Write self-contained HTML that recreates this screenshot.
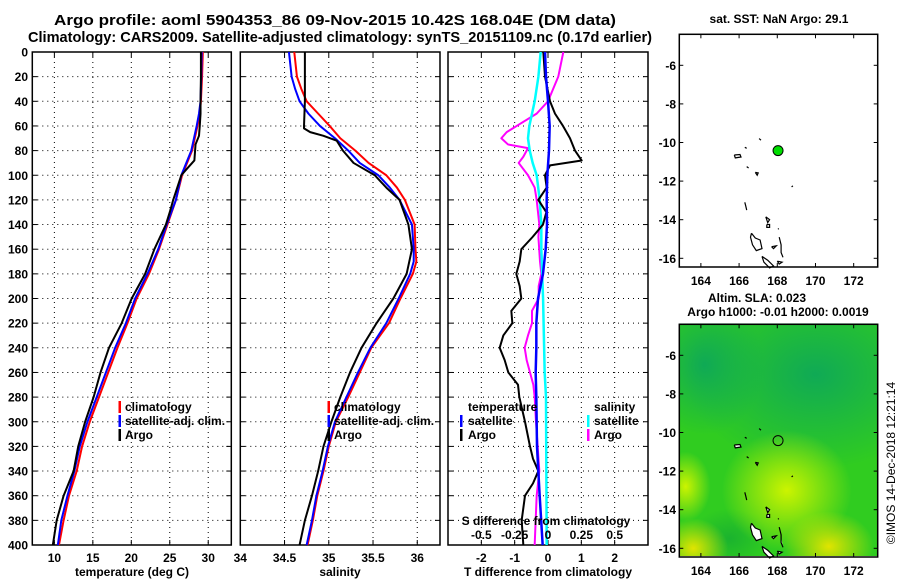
<!DOCTYPE html>
<html><head><meta charset="utf-8"><style>
html,body{margin:0;padding:0;background:#fff;}
svg{display:block;font-family:"Liberation Sans",Arial,sans-serif;font-weight:bold;}
</style></head><body>
<svg id="chart" width="900" height="580" viewBox="0 0 900 580" xmlns="http://www.w3.org/2000/svg">
<defs>
<radialGradient id="gTeal"><stop offset="0" stop-color="#0ea858" stop-opacity="0.95"/><stop offset="1" stop-color="#0ea858" stop-opacity="0"/></radialGradient>
<radialGradient id="gYel"><stop offset="0" stop-color="#ccf400" stop-opacity="1"/><stop offset="1" stop-color="#ccf400" stop-opacity="0"/></radialGradient>
<radialGradient id="gYel2"><stop offset="0" stop-color="#e0e400" stop-opacity="1"/><stop offset="1" stop-color="#e0e400" stop-opacity="0"/></radialGradient>
<radialGradient id="gDark"><stop offset="0" stop-color="#18b030" stop-opacity="0.9"/><stop offset="1" stop-color="#18b030" stop-opacity="0"/></radialGradient>
<clipPath id="clipMap2"><rect x="679.3" y="323.3" width="198.4" height="232.7"/></clipPath>
</defs>
<text x="335" y="25" text-anchor="middle" font-size="15" textLength="562" lengthAdjust="spacingAndGlyphs">Argo profile: aoml 5904353_86 09-Nov-2015 10.42S 168.04E (DM data)</text>
<text x="340" y="42" text-anchor="middle" font-size="15" textLength="624" lengthAdjust="spacingAndGlyphs">Climatology: CARS2009. Satellite-adjusted climatology: synTS_20151109.nc (0.17d earlier)</text>
<g id="plots"></g>
</svg>
<script>
// ---------- data ----------
const depthTicks = [0,20,40,60,80,100,120,140,160,180,200,220,240,260,280,300,320,340,360,380,400];
const tempTicks = [10,15,20,25,30];
const salTicks = [34,34.5,35,35.5,36];
const salTickLabels = ["34","34.5","35","35.5","36"];
const tdiffTicks = [-2,-1,0,1,2];
const sdiffTicks = [-0.5,-0.25,0,0.25,0.5];
const sdiffTickLabels = ["-0.5","-0.25","0","0.25","0.5"];

const argoTDepth = [0,20,40,50,60,68,75,88,95,100,120,130,140,160,180,200,220,240,260,280,300,320,340,360,380,400];
const argoT = [29.05,29.05,29.0,29.0,28.9,28.8,28.35,28.2,27.2,26.5,25.45,25.0,24.5,23.0,21.8,20.05,18.75,17.1,16.0,15.1,14.0,13.1,12.5,11.2,10.3,9.8];
const climTDepth = [0,20,40,50,60,80,100,120,140,160,180,200,220,240,260,280,300,320,340,360,380,400];
const climT = [29.3,29.2,29.05,28.9,28.6,27.9,26.6,25.8,24.7,23.6,22.3,20.7,19.5,18.2,17.0,15.8,14.6,13.6,12.9,11.9,11.2,10.6];
const satT = [29.15,29.1,29.0,28.8,28.5,27.8,26.5,25.8,24.6,23.5,22.1,20.5,19.3,17.9,16.7,15.5,14.3,13.3,12.6,11.7,10.9,10.45];

const argoSDepth = [0,20,40,60,62,65,68,72,80,90,100,110,120,140,160,180,200,220,240,260,280,300,320,340,360,380,400];
const argoS = [34.73,34.73,34.73,34.72,34.72,34.79,34.94,35.09,35.16,35.28,35.52,35.65,35.80,35.90,35.94,35.88,35.73,35.54,35.37,35.24,35.13,35.03,34.94,34.88,34.81,34.73,34.67];
const climSDepth = [0,20,30,40,50,60,70,80,90,100,110,120,140,160,170,180,200,220,240,260,280,300,320,340,360,380,400];
const climS = [34.61,34.64,34.69,34.75,34.88,35.01,35.13,35.30,35.45,35.65,35.77,35.86,35.97,35.98,35.99,35.95,35.81,35.68,35.48,35.35,35.22,35.08,35.0,34.94,34.87,34.82,34.76];
const satS = [34.55,34.58,34.62,34.67,34.77,34.90,35.07,35.22,35.35,35.56,35.69,35.80,35.94,35.96,35.96,35.92,35.79,35.65,35.47,35.33,35.20,35.07,34.99,34.93,34.86,34.81,34.75];

const argoDTDepth = [0,20,40,50,60,70,80,88,92,100,110,120,130,140,150,160,170,180,190,200,210,220,230,240,250,260,270,280,300,320,330,340,350,360,380,400];
const argoDT = [-0.14,-0.09,0.06,0.21,0.45,0.66,0.81,1.01,0.06,-0.09,-0.04,-0.29,-0.05,-0.15,-0.46,-0.8,-0.85,-0.95,-0.85,-0.8,-1.1,-1.07,-1.34,-1.45,-1.3,-1.19,-0.9,-0.86,-0.69,-0.54,-0.45,-0.29,-0.45,-0.69,-0.79,-0.74];
const satDTDepth = [0,20,40,60,80,100,120,140,160,180,200,220,240,260,280,320,360,400];
const satDT = [-0.09,-0.06,0,0.05,0.03,-0.02,-0.04,-0.03,-0.07,-0.15,-0.3,-0.35,-0.35,-0.37,-0.35,-0.33,-0.25,-0.16];
const satDSDepth = [0,20,40,50,60,70,80,90,100,120,140,160,200,260,280,400];
const satDS = [-0.055,-0.072,-0.1,-0.12,-0.14,-0.15,-0.137,-0.115,-0.085,-0.062,-0.05,-0.05,-0.037,-0.025,-0.015,-0.01];
const argoDSDepth = [0,20,40,50,60,65,70,75,78,85,90,100,110,120,140,150,170,180,190,200,210,220,230,240,250,260,270,280,300,340,360,400];
const argoDS = [0.115,0.077,0,-0.085,-0.235,-0.31,-0.35,-0.3,-0.15,-0.185,-0.22,-0.15,-0.1,-0.085,-0.065,-0.072,-0.06,-0.05,-0.07,-0.07,-0.12,-0.12,-0.15,-0.175,-0.16,-0.135,-0.11,-0.1,-0.09,-0.065,-0.085,-0.1];

const lonTicks = [164,166,168,170,172];
const latTicks = [-6,-8,-10,-12,-14,-16];
const argoLon = [168.04];
const argoLat = [-10.42];

// ---------- helpers ----------
const NS = "http://www.w3.org/2000/svg";
const root = document.getElementById('plots');
function mk(tag, attrs, parent) {
  const e = document.createElementNS(NS, tag);
  for (const k in attrs) e.setAttribute(k, attrs[k]);
  (parent || root).appendChild(e);
  return e;
}
const Y0 = 52, Y1 = 545;
const yD = d => Y0 + (d / 400) * (Y1 - Y0);

function makeX(x0, x1, v0, v1) { return v => x0 + (v - v0) / (v1 - v0) * (x1 - x0); }
const xT = makeX(32.3, 231.3, 7.13, 33.0);
const xS = makeX(240.3, 440, 34.0, 36.257);
const xDT = makeX(448, 648, -3.0, 3.0);
const xDS = makeX(448, 648, -0.75, 0.75);

function panel(name, x0, x1, xticks, xfn, labels) {
  const g = mk('g', {});
  
  
  depthTicks.forEach(d => {
    if (d === 0 || d === 400) return;
    const l = mk('line', {x1: x0, x2: x1, y1: yD(d), y2: yD(d), stroke: '#000', 'stroke-width': 1, 'stroke-dasharray': '1,4'}, g);
    
    
    mk('line', {x1: x0, x2: x0 + 5, y1: yD(d), y2: yD(d), stroke: '#000'}, g);
    mk('line', {x1: x1 - 5, x2: x1, y1: yD(d), y2: yD(d), stroke: '#000'}, g);
  });
  xticks.forEach(v => {
    const x = xfn(v);
    if (x <= x0 + 1 || x >= x1 - 1) return;
    const l = mk('line', {x1: x, x2: x, y1: Y0, y2: Y1, stroke: '#000', 'stroke-width': 1, 'stroke-dasharray': '1,4'}, g);
    
    
    mk('line', {x1: x, x2: x, y1: Y0, y2: Y0 + 5, stroke: '#000'}, g);
    mk('line', {x1: x, x2: x, y1: Y1 - 5, y2: Y1, stroke: '#000'}, g);
  });
  xticks.forEach((v, i) => {
    const t = mk('text', {x: xfn(v), y: 562, 'text-anchor': 'middle', 'font-size': 12}, g);
    t.textContent = labels ? labels[i] : String(v);
    
    
  });
  const fr = mk('rect', {x: x0, y: Y0, width: x1 - x0, height: Y1 - Y0, fill: 'none', stroke: '#000', 'stroke-width': 1.5}, g);
  
  
  return g;
}
function series(g, name, vals, depths, xfn, color, w) {
  const pts = vals.map((v, i) => xfn(v).toFixed(2) + ',' + yD(depths[i]).toFixed(2)).join(' ');
  const p = mk('polyline', {points: pts, fill: 'none', stroke: color, 'stroke-width': w, 'stroke-linejoin': 'round'}, g);
  
  
}
function txt(g, name, x, y, s, size, anchor, extra) {
  const t = mk('text', Object.assign({x: x, y: y, 'font-size': size, 'text-anchor': anchor || 'start'}, extra || {}), g);
  t.textContent = s;
  
  
  return t;
}
function legBar(g, name, x, y, color) {
  const r = mk('rect', {x: x, y: y - 10, width: 2.5, height: 12, fill: color}, g);
  
  
}

const yax = mk('g', {});


depthTicks.forEach(d => txt(yax, 'y-tick-label', 28, yD(d) + 4.5, String(d), 12, 'end'));

// Panel 1 temperature
const p1 = panel('temperature-panel', 32.3, 231.3, tempTicks, xT);
series(p1, 'climatology-temperature-line', climT, climTDepth, xT, '#ff0000', 2);
series(p1, 'satellite-temperature-line', satT, climTDepth, xT, '#0000ff', 2);
series(p1, 'argo-temperature-line', argoT, argoTDepth, xT, '#000000', 2);
txt(p1, 'x-axis-title-temperature', 132, 576, 'temperature (deg C)', 12, 'middle');
legBar(p1, 'legend-swatch-climatology', 118.5, 411, '#ff0000');
txt(p1, 'legend-label-climatology', 125, 411, 'climatology', 12);
legBar(p1, 'legend-swatch-satellite', 118.5, 425, '#0000ff');
txt(p1, 'legend-label-satellite', 125, 425, 'satellite-adj. clim.', 12);
legBar(p1, 'legend-swatch-argo', 118.5, 439, '#000000');
txt(p1, 'legend-label-argo', 125, 439, 'Argo', 12);

// Panel 2 salinity
const p2 = panel('salinity-panel', 240.3, 440, salTicks, xS, salTickLabels);
series(p2, 'climatology-salinity-line', climS, climSDepth, xS, '#ff0000', 2);
series(p2, 'satellite-salinity-line', satS, climSDepth, xS, '#0000ff', 2);
series(p2, 'argo-salinity-line', argoS, argoSDepth, xS, '#000000', 2);
txt(p2, 'x-axis-title-salinity', 340, 576, 'salinity', 12, 'middle');
legBar(p2, 'legend-swatch-climatology', 327.5, 411, '#ff0000');
txt(p2, 'legend-label-climatology', 334, 411, 'climatology', 12);
legBar(p2, 'legend-swatch-satellite', 327.5, 425, '#0000ff');
txt(p2, 'legend-label-satellite', 334, 425, 'satellite-adj. clim.', 12);
legBar(p2, 'legend-swatch-argo', 327.5, 439, '#000000');
txt(p2, 'legend-label-argo', 334, 439, 'Argo', 12);

// Panel 3 differences
const p3 = panel('difference-panel', 448, 648, tdiffTicks, xDT);
series(p3, 'argo-salinity-difference-line', argoDS, argoDSDepth, xDS, '#ff00ff', 2);
series(p3, 'satellite-salinity-difference-line', satDS, satDSDepth, xDS, '#00ffff', 2.5);
series(p3, 'argo-temperature-difference-line', argoDT, argoDTDepth, xDT, '#000000', 2);
series(p3, 'satellite-temperature-difference-line', satDT, satDTDepth, xDT, '#0000ff', 2.5);
txt(p3, 'x-axis-title-tdiff', 548, 576, 'T difference from climatology', 12, 'middle');
txt(p3, 's-axis-title', 546, 525, 'S difference from climatology', 12, 'middle');
sdiffTicks.forEach((v, i) => txt(p3, 's-tick-label', xDS(v), 539, sdiffTickLabels[i], 12, 'middle'));
txt(p3, 'legend-title-temperature', 468, 411, 'temperature', 12);
legBar(p3, 'legend-swatch-temp-satellite', 460, 425, '#0000ff');
txt(p3, 'legend-label-temp-satellite', 468, 425, 'satellite', 12);
legBar(p3, 'legend-swatch-temp-argo', 460, 439, '#000000');
txt(p3, 'legend-label-temp-argo', 468, 439, 'Argo', 12);
txt(p3, 'legend-title-salinity', 594, 411, 'salinity', 12);
legBar(p3, 'legend-swatch-sal-satellite', 587, 425, '#00ffff');
txt(p3, 'legend-label-sal-satellite', 594, 425, 'satellite', 12);
legBar(p3, 'legend-swatch-sal-argo', 587, 439, '#ff00ff');
txt(p3, 'legend-label-sal-argo', 594, 439, 'Argo', 12);

// ---------- maps ----------
const MX0 = 679.3, MX1 = 877.7;
const lonX = lon => MX0 + (lon - 162.87) * 19.1;
function latYf(off) { return lat => off + 65.3 + (-6 - lat) * 19.3; }

const islands = [
  [[167.05,-9.8],[167.15,-9.88]],
  [[166.3,-10.25],[166.4,-10.3]],
  [[165.75,-10.65],[166.05,-10.62],[166.1,-10.75],[165.8,-10.8],[165.75,-10.65]],
  [[166.4,-11.25],[166.5,-11.32]],
  [[166.85,-11.55],[167.0,-11.58],[166.95,-11.7],[166.85,-11.55]],
  [[168.75,-12.3],[168.82,-12.25]],
  [[166.3,-13.1],[166.35,-13.3],[166.4,-13.5]],
  [[167.4,-13.85],[167.6,-14.0],[167.5,-14.15],[167.4,-13.85]],
  [[167.45,-14.25],[167.6,-14.25],[167.6,-14.4],[167.45,-14.4],[167.45,-14.25]],
  [[168.05,-14.45],[168.07,-14.5]],
  [[166.65,-14.7],[166.85,-14.95],[167.1,-15.05],[167.2,-15.5],[166.9,-15.6],[166.7,-15.3],[166.6,-14.9],[166.65,-14.7]],
  [[168.1,-14.9],[168.2,-15.3],[168.2,-15.7],[168.3,-15.95]],
  [[167.7,-15.4],[167.95,-15.35],[167.8,-15.5],[167.7,-15.4]],
  [[167.2,-15.9],[167.5,-16.1],[167.8,-16.4],[167.6,-16.5],[167.3,-16.2],[167.2,-15.9]],
  [[168.0,-16.15],[168.25,-16.2],[168.1,-16.3],[168.0,-16.15]]
];

function mapPanel(name, off, filled) {
  const g = mk('g', {});
  
  
  const yf = latYf(off);
  const top = off + 34.3, bot = off + 267;
  if (filled) {
    const bg = mk('g', {'clip-path': 'url(#clipMap2)'}, g);
    
    
    mk('rect', {x: MX0, y: top, width: MX1 - MX0, height: bot - top, fill: '#30cc20'}, bg);
    mk('ellipse', {cx: lonX(170), cy: yf(-7), rx: 130, ry: 95, fill: 'url(#gTeal)'}, bg);
    mk('ellipse', {cx: lonX(164.2), cy: yf(-6.5), rx: 60, ry: 70, fill: 'url(#gTeal)'}, bg);
    mk('ellipse', {cx: lonX(165.5), cy: yf(-15.5), rx: 40, ry: 30, fill: 'url(#gDark)'}, bg);
    mk('ellipse', {cx: lonX(168.5), cy: yf(-13), rx: 65, ry: 60, fill: 'url(#gYel)'}, bg);
    mk('ellipse', {cx: lonX(170.7), cy: yf(-15.9), rx: 45, ry: 35, fill: 'url(#gYel2)'}, bg);
    mk('ellipse', {cx: lonX(163.6), cy: yf(-16), rx: 35, ry: 30, fill: 'url(#gYel2)'}, bg);
    mk('ellipse', {cx: lonX(163.2), cy: yf(-12.8), rx: 25, ry: 35, fill: 'url(#gYel)'}, bg);
  }
  islands.forEach(isl => {
    const pts = isl.map(p => lonX(p[0]).toFixed(1) + ',' + yf(p[1]).toFixed(1)).join(' ');
    const closed = isl.length > 3;
    const p = mk('polyline', {points: pts, fill: (filled && closed) ? '#fff' : 'none', stroke: '#000', 'stroke-width': 1.2}, g);
    
    
  });
  argoLon.forEach((lon, i) => {
    const c = mk('circle', {cx: lonX(lon), cy: yf(argoLat[i]), r: 5, fill: filled ? 'none' : '#00dd00', stroke: '#000', 'stroke-width': 1}, g);
    
    
  });
  const fr = mk('rect', {x: MX0, y: top, width: MX1 - MX0, height: bot - top, fill: 'none', stroke: '#000', 'stroke-width': 1.5}, g);
  
  
  lonTicks.forEach(lon => {
    const x = lonX(lon);
    mk('line', {x1: x, x2: x, y1: top, y2: top + 4, stroke: '#000'}, g);
    mk('line', {x1: x, x2: x, y1: bot, y2: bot - 4, stroke: '#000'}, g);
    txt(g, 'longitude-tick-label', x, off + 285, String(lon), 12, 'middle');
  });
  latTicks.forEach(lat => {
    const y = yf(lat);
    mk('line', {x1: MX0, x2: MX0 + 4, y1: y, y2: y, stroke: '#000'}, g);
    mk('line', {x1: MX1, x2: MX1 - 4, y1: y, y2: y, stroke: '#000'}, g);
    txt(g, 'latitude-tick-label', 676, y + 4.5, String(lat), 12, 'end');
  });
  return g;
}
const m1 = mapPanel('sst-map', 0, false);
txt(m1, 'sst-map-title', 779, 23, 'sat. SST: NaN Argo: 29.1', 12, 'middle');
const m2 = mapPanel('sla-map', 290, true);
txt(m2, 'sla-map-title-1', 757, 302, 'Altim. SLA: 0.023', 12, 'middle');
txt(m2, 'sla-map-title-2', 778, 316, 'Argo h1000: -0.01 h2000: 0.0019', 12, 'middle');
const cr = txt(root, 'imos-timestamp', 0, 0, '©IMOS 14-Dec-2018 12:21:14', 12, 'middle', {transform: 'translate(895,463) rotate(-90)', 'font-weight': 'normal'});
</script>
</body></html>
